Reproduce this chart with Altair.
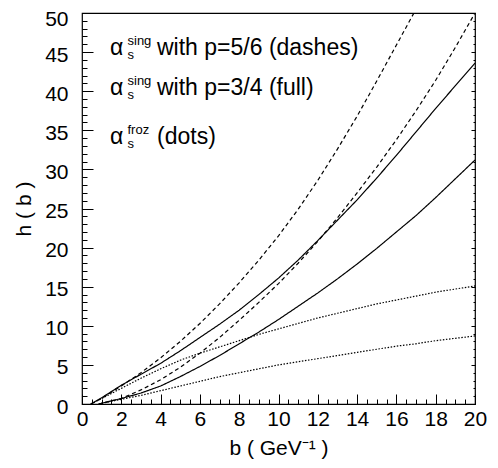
import altair as alt
import pandas as pd

# ---- data ----
# alpha_s^sing, p = 5/6 (dashes)
dash_hi_b = [0.45, 1, 2, 3, 4, 5, 6, 7, 8, 9, 10, 11, 12, 13, 14, 15, 16, 17]
dash_hi_h = [0, 0.7, 2.3, 4.0, 5.9, 8.0, 10.3, 12.8, 15.5, 18.4, 21.5, 24.9, 28.6, 32.6, 36.8, 41.3, 45.9, 50.5]
dash_lo_b = [0.85, 1, 2, 3, 4, 5, 6, 7, 8, 9, 10, 11, 12, 13, 14, 15, 16, 17, 18, 19, 20]
dash_lo_h = [0, 0.1, 0.7, 1.8, 3.1, 4.7, 6.5, 8.5, 10.7, 13.0, 15.4, 18.0, 20.8, 23.8, 27.0, 30.3, 33.8, 37.5, 41.4, 45.6, 50.0]
# alpha_s^sing, p = 3/4 (full)
full_hi_b = [0.45, 1, 2, 3, 4, 5, 6, 7, 8, 9, 10, 11, 12, 13, 14, 15, 16, 17, 18, 19, 20]
full_hi_h = [0, 0.8, 2.4, 3.8, 5.2, 6.8, 8.5, 10.2, 12.0, 14.0, 16.1, 18.4, 20.9, 23.5, 26.1, 28.9, 31.8, 34.8, 37.8, 40.7, 43.6]
full_lo_b = [0.85, 1, 2, 3, 4, 5, 6, 7, 8, 9, 10, 11, 12, 13, 14, 15, 16, 17, 18, 19, 20]
full_lo_h = [0, 0.1, 0.7, 1.4, 2.3, 3.5, 4.8, 6.2, 7.7, 9.2, 10.8, 12.5, 14.2, 16.0, 17.9, 19.9, 22.0, 24.1, 26.4, 28.8, 31.2]
# alpha_s^froz (dots)
dots_hi_b = [0.45, 1, 2, 3, 4, 5, 6, 7, 8, 9, 10, 11, 12, 13, 14, 15, 16, 17, 18, 19, 20]
dots_hi_h = [0, 0.7, 2.0, 3.3, 4.5, 5.6, 6.5, 7.3, 8.1, 8.9, 9.6, 10.3, 11.0, 11.6, 12.2, 12.8, 13.3, 13.8, 14.3, 14.7, 15.1]
dots_lo_b = [0.85, 1, 2, 3, 4, 5, 6, 7, 8, 9, 10, 11, 12, 13, 14, 15, 16, 17, 18, 19, 20]
dots_lo_h = [0, 0.1, 0.6, 1.1, 1.7, 2.3, 2.9, 3.5, 4.0, 4.5, 5.0, 5.4, 5.8, 6.2, 6.6, 7.0, 7.4, 7.7, 8.1, 8.4, 8.7]

x_major = [0, 2, 4, 6, 8, 10, 12, 14, 16, 18, 20]
x_minor = [i / 2 for i in range(0, 41)]
y_major = [0, 5, 10, 15, 20, 25, 30, 35, 40, 45, 50]
y_minor = list(range(0, 51))

x_title = "b ( GeV\u207b\u00b9 )"
y_title = "h ( b )"

legend_lines = [
    ("sing", "with p=5/6 (dashes)"),
    ("sing", "with p=3/4 (full)"),
    ("froz", "(dots)"),
]

# ---- build table ----
rows = []
for name, style, bs, hs in [
    ("d1", "dashes", dash_hi_b, dash_hi_h),
    ("d2", "dashes", dash_lo_b, dash_lo_h),
    ("f1", "full", full_hi_b, full_hi_h),
    ("f2", "full", full_lo_b, full_lo_h),
    ("p1", "dots", dots_hi_b, dots_hi_h),
    ("p2", "dots", dots_lo_b, dots_lo_h),
]:
    for b, h in zip(bs, hs):
        rows.append({"b": b, "h": h, "curve": name, "style": style})
df = pd.DataFrame(rows)

FONT = "Liberation Sans"
xs = alt.Scale(domain=[0, 20], nice=False, zero=False)
ys = alt.Scale(domain=[0, 50], nice=False, zero=False)

lines = alt.Chart(df).mark_line(color="black", strokeWidth=1.2, clip=True).encode(
    x=alt.X("b:Q", scale=xs, axis=alt.Axis(values=x_major, tickSize=10, offset=-10,
                                           labelPadding=4, labelFlush=False,
                                           title=x_title, titlePadding=8,
                                           orient="bottom", format="d")),
    y=alt.Y("h:Q", scale=ys, axis=alt.Axis(values=y_major, tickSize=11, offset=-11,
                                           labelPadding=14, labelFlush=False,
                                           labelOffset={"condition": {"test": "datum.value == 50", "value": 6},
                                                        "value": 3},
                                           title=y_title, titlePadding=10,
                                           orient="left", format="d")),
    detail="curve:N",
    strokeDash=alt.StrokeDash("style:N",
                              scale=alt.Scale(domain=["dashes", "full", "dots"],
                                              range=[[4, 3], [1, 0], [1.5, 1.6]]),
                              legend=None),
)

minor = alt.Chart(df).mark_point(opacity=0).encode(
    x=alt.X("b:Q", scale=xs, axis=alt.Axis(values=x_minor, tickSize=5, offset=-5, labels=False,
                                           title=None, orient="bottom")),
    y=alt.Y("h:Q", scale=ys, axis=alt.Axis(values=y_minor, tickSize=5, offset=-5, labels=False,
                                           title=None, orient="left")),
)

right_major = alt.Chart(df).mark_point(opacity=0).encode(
    x=alt.X("b:Q", scale=xs, axis=None),
    y=alt.Y("h:Q", scale=ys, axis=alt.Axis(values=y_major, tickSize=4, offset=-4, labels=False,
                                           title=None, orient="right")),
)
right_minor = alt.Chart(df).mark_point(opacity=0).encode(
    x=alt.X("b:Q", scale=xs, axis=None),
    y=alt.Y("h:Q", scale=ys, axis=alt.Axis(values=y_minor, tickSize=2, offset=-2, labels=False,
                                           title=None, orient="right")),
)


def txt(s, x, y, size):
    return alt.Chart(pd.DataFrame({"t": [s]})).mark_text(
        align="left", baseline="alphabetic", font=FONT, fontSize=size, color="black"
    ).encode(text="t:N", x=alt.value(x), y=alt.value(y))


texts = []
baselines = [41.5, 81.5, 131]
for (sup, rest), yb in zip(legend_lines, baselines):
    texts.append(txt("\u03b1", 28, yb, 23))
    texts.append(txt(sup, 45.5, yb - 10, 13))
    texts.append(txt("s", 45.5, yb + 4, 13))
    texts.append(txt(rest, 75, yb, 23))

chart = alt.layer(lines, minor, right_major, right_minor, *texts).resolve_axis(
    x="independent", y="independent"
).properties(
    width=393, height=391, autosize="none",
    padding={"left": 74, "top": 5, "right": 15, "bottom": 56},
).configure_view(stroke="black", strokeWidth=1.2).configure_axis(
    labelFont=FONT, labelFontSize=21, labelColor="black", tickColor="black", tickWidth=1,
    titleFont=FONT, titleFontSize=21, titleFontWeight="normal", titleColor="black",
    grid=False, domain=False,
)

chart.save("out.html", embed_options={"renderer": "svg", "actions": False})
